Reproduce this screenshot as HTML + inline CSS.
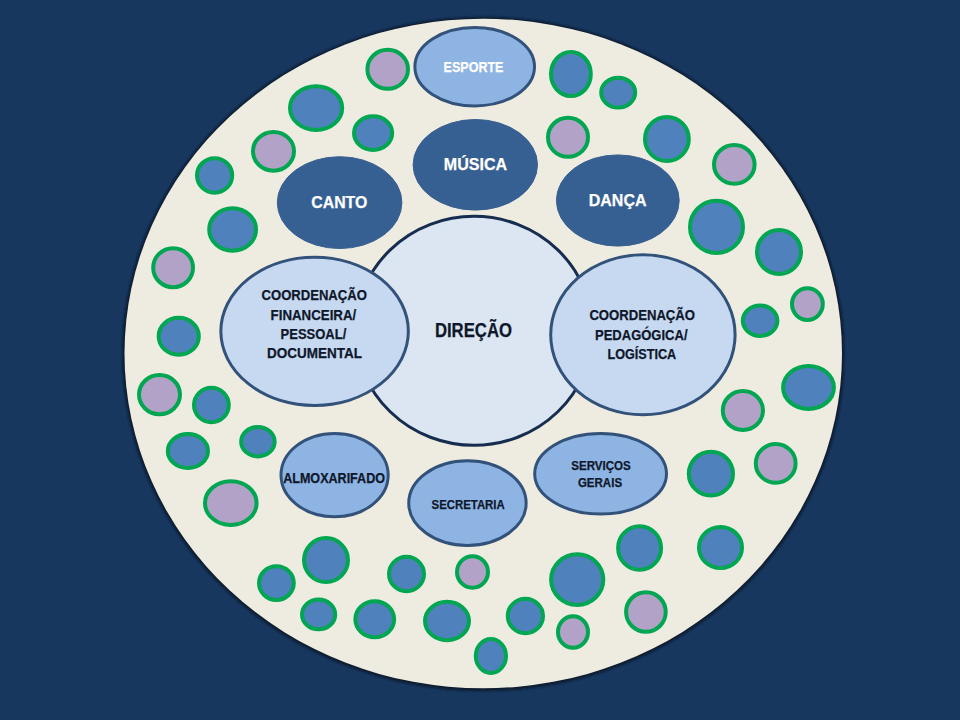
<!DOCTYPE html>
<html><head><meta charset="utf-8"><style>
html,body{margin:0;padding:0;width:960px;height:720px;overflow:hidden;background:#17375E;}
svg{display:block;}
text{font-family:"Liberation Sans",sans-serif;font-weight:bold;}
</style></head><body>
<svg width="960" height="720" viewBox="0 0 960 720">
<defs><filter id="sh" x="-10%" y="-10%" width="120%" height="120%"><feGaussianBlur stdDeviation="1.2"/></filter></defs>
<rect width="960" height="720" fill="#17375E"/>
<ellipse cx="483.25" cy="354" rx="361" ry="337" fill="#0a1a2e" filter="url(#sh)"/>
<ellipse cx="483.25" cy="353.5" rx="358.75" ry="334.8" fill="#EEECE1"/>
<ellipse cx="387.7" cy="69.3" rx="20.30" ry="19.50" fill="#B3A2C7" stroke="#00A651" stroke-width="4"/>
<ellipse cx="316.1" cy="108.1" rx="26.10" ry="21.90" fill="#4F81BD" stroke="#00A651" stroke-width="4"/>
<ellipse cx="373.1" cy="133.1" rx="19.10" ry="16.90" fill="#4F81BD" stroke="#00A651" stroke-width="4"/>
<ellipse cx="273.5" cy="151.3" rx="20.50" ry="19.40" fill="#B3A2C7" stroke="#00A651" stroke-width="4"/>
<ellipse cx="214.6" cy="175.4" rx="17.60" ry="17.25" fill="#4F81BD" stroke="#00A651" stroke-width="4"/>
<ellipse cx="232.6" cy="229.5" rx="23.40" ry="21.30" fill="#4F81BD" stroke="#00A651" stroke-width="4"/>
<ellipse cx="173.1" cy="267.7" rx="19.90" ry="19.50" fill="#B3A2C7" stroke="#00A651" stroke-width="4"/>
<ellipse cx="178.75" cy="336.25" rx="20.10" ry="18.40" fill="#4F81BD" stroke="#00A651" stroke-width="4"/>
<ellipse cx="570.9" cy="74" rx="19.90" ry="22.10" fill="#4F81BD" stroke="#00A651" stroke-width="4"/>
<ellipse cx="618.2" cy="92.6" rx="17.00" ry="14.90" fill="#4F81BD" stroke="#00A651" stroke-width="4"/>
<ellipse cx="568" cy="137.3" rx="20.00" ry="19.50" fill="#B3A2C7" stroke="#00A651" stroke-width="4"/>
<ellipse cx="666.9" cy="139" rx="21.90" ry="22.00" fill="#4F81BD" stroke="#00A651" stroke-width="4"/>
<ellipse cx="734.3" cy="164.4" rx="20.30" ry="19.40" fill="#B3A2C7" stroke="#00A651" stroke-width="4"/>
<ellipse cx="716.5" cy="226.9" rx="26.50" ry="26.10" fill="#4F81BD" stroke="#00A651" stroke-width="4"/>
<ellipse cx="779" cy="252" rx="22.00" ry="21.90" fill="#4F81BD" stroke="#00A651" stroke-width="4"/>
<ellipse cx="807.4" cy="304.1" rx="15.40" ry="15.80" fill="#B3A2C7" stroke="#00A651" stroke-width="4"/>
<ellipse cx="760.1" cy="320.7" rx="17.30" ry="15.20" fill="#4F81BD" stroke="#00A651" stroke-width="4"/>
<ellipse cx="159.5" cy="394.6" rx="20.50" ry="19.60" fill="#B3A2C7" stroke="#00A651" stroke-width="4"/>
<ellipse cx="211.4" cy="405" rx="17.40" ry="17.20" fill="#4F81BD" stroke="#00A651" stroke-width="4"/>
<ellipse cx="187.9" cy="451" rx="20.10" ry="17.00" fill="#4F81BD" stroke="#00A651" stroke-width="4"/>
<ellipse cx="257.9" cy="441.7" rx="16.75" ry="14.70" fill="#4F81BD" stroke="#00A651" stroke-width="4"/>
<ellipse cx="230.8" cy="503.1" rx="25.80" ry="21.90" fill="#B3A2C7" stroke="#00A651" stroke-width="4"/>
<ellipse cx="326" cy="560.1" rx="22.00" ry="22.00" fill="#4F81BD" stroke="#00A651" stroke-width="4"/>
<ellipse cx="276.4" cy="583.1" rx="17.40" ry="16.90" fill="#4F81BD" stroke="#00A651" stroke-width="4"/>
<ellipse cx="318.6" cy="614.4" rx="16.60" ry="14.90" fill="#4F81BD" stroke="#00A651" stroke-width="4"/>
<ellipse cx="374.75" cy="619.2" rx="19.40" ry="18.00" fill="#4F81BD" stroke="#00A651" stroke-width="4"/>
<ellipse cx="406.5" cy="574" rx="17.50" ry="17.20" fill="#4F81BD" stroke="#00A651" stroke-width="4"/>
<ellipse cx="447" cy="621" rx="22.00" ry="19.20" fill="#4F81BD" stroke="#00A651" stroke-width="4"/>
<ellipse cx="472.5" cy="572" rx="15.50" ry="15.70" fill="#B3A2C7" stroke="#00A651" stroke-width="4"/>
<ellipse cx="808.5" cy="387.4" rx="25.40" ry="21.50" fill="#4F81BD" stroke="#00A651" stroke-width="4"/>
<ellipse cx="742.9" cy="410.5" rx="20.10" ry="19.40" fill="#B3A2C7" stroke="#00A651" stroke-width="4"/>
<ellipse cx="775.7" cy="463.4" rx="19.90" ry="19.40" fill="#B3A2C7" stroke="#00A651" stroke-width="4"/>
<ellipse cx="710.9" cy="473.7" rx="22.10" ry="21.90" fill="#4F81BD" stroke="#00A651" stroke-width="4"/>
<ellipse cx="639.6" cy="548" rx="21.50" ry="21.80" fill="#4F81BD" stroke="#00A651" stroke-width="4"/>
<ellipse cx="720.5" cy="547.5" rx="21.50" ry="20.60" fill="#4F81BD" stroke="#00A651" stroke-width="4"/>
<ellipse cx="577.2" cy="579.6" rx="26.10" ry="25.30" fill="#4F81BD" stroke="#00A651" stroke-width="4"/>
<ellipse cx="645.9" cy="612" rx="19.80" ry="19.80" fill="#B3A2C7" stroke="#00A651" stroke-width="4"/>
<ellipse cx="525.4" cy="616" rx="17.60" ry="17.20" fill="#4F81BD" stroke="#00A651" stroke-width="4"/>
<ellipse cx="573" cy="632" rx="15.00" ry="15.80" fill="#B3A2C7" stroke="#00A651" stroke-width="4"/>
<ellipse cx="490.9" cy="656" rx="15.10" ry="17.00" fill="#4F81BD" stroke="#00A651" stroke-width="4"/>
<ellipse cx="474.7" cy="66.7" rx="59.80" ry="39.20" fill="#8EB4E3" stroke="#33527A" stroke-width="3"/>
<ellipse cx="475.3" cy="164.8" rx="62.20" ry="45.30" fill="#376092" stroke="#3A5F90" stroke-width="1"/>
<ellipse cx="339.6" cy="202.6" rx="62.30" ry="45.90" fill="#376092" stroke="#3A5F90" stroke-width="1"/>
<ellipse cx="617.8" cy="200.5" rx="61.40" ry="45.60" fill="#376092" stroke="#3A5F90" stroke-width="1"/>
<ellipse cx="474" cy="330.8" rx="118.50" ry="114.50" fill="#DCE6F2" stroke="#172D4F" stroke-width="3"/>
<ellipse cx="314.6" cy="331.3" rx="93.75" ry="74.10" fill="#C6D9F1" stroke="#33527A" stroke-width="3"/>
<ellipse cx="642.9" cy="334.7" rx="92.20" ry="80.00" fill="#C6D9F1" stroke="#33527A" stroke-width="3"/>
<ellipse cx="334.6" cy="475.1" rx="53.60" ry="41.70" fill="#8EB4E3" stroke="#33527A" stroke-width="3"/>
<ellipse cx="467.45" cy="503.1" rx="58.70" ry="42.30" fill="#8EB4E3" stroke="#33527A" stroke-width="3"/>
<ellipse cx="600.6" cy="473.8" rx="65.90" ry="40.30" fill="#8EB4E3" stroke="#33527A" stroke-width="3"/>
<text x="443.60" y="72.20" font-size="14.7" fill="#FFFFFF" textLength="59.90" lengthAdjust="spacingAndGlyphs" stroke="#FFFFFF" stroke-width="0.25">ESPORTE</text>
<text x="443.75" y="169.80" font-size="17.4" fill="#FFFFFF" textLength="63.35" lengthAdjust="spacingAndGlyphs" stroke="#FFFFFF" stroke-width="0.25">MÚSICA</text>
<text x="311.25" y="207.90" font-size="17.4" fill="#FFFFFF" textLength="56.05" lengthAdjust="spacingAndGlyphs" stroke="#FFFFFF" stroke-width="0.25">CANTO</text>
<text x="588.75" y="205.80" font-size="17.4" fill="#FFFFFF" textLength="57.75" lengthAdjust="spacingAndGlyphs" stroke="#FFFFFF" stroke-width="0.25">DANÇA</text>
<text x="434.90" y="336.90" font-size="19.5" fill="#0F172A" textLength="77.10" lengthAdjust="spacingAndGlyphs" stroke="#0F172A" stroke-width="0.25">DIREÇÃO</text>
<text x="261.50" y="300.00" font-size="14.5" fill="#0F172A" textLength="105.40" lengthAdjust="spacingAndGlyphs" stroke="#0F172A" stroke-width="0.25">COORDENAÇÃO</text>
<text x="270.60" y="319.75" font-size="14.5" fill="#0F172A" textLength="85.65" lengthAdjust="spacingAndGlyphs" stroke="#0F172A" stroke-width="0.25">FINANCEIRA/</text>
<text x="280.60" y="338.75" font-size="14.5" fill="#0F172A" textLength="65.65" lengthAdjust="spacingAndGlyphs" stroke="#0F172A" stroke-width="0.25">PESSOAL/</text>
<text x="266.90" y="358.10" font-size="14.5" fill="#0F172A" textLength="95.00" lengthAdjust="spacingAndGlyphs" stroke="#0F172A" stroke-width="0.25">DOCUMENTAL</text>
<text x="589.40" y="319.75" font-size="14.5" fill="#0F172A" textLength="105.60" lengthAdjust="spacingAndGlyphs" stroke="#0F172A" stroke-width="0.25">COORDENAÇÃO</text>
<text x="595.00" y="339.75" font-size="14.5" fill="#0F172A" textLength="92.50" lengthAdjust="spacingAndGlyphs" stroke="#0F172A" stroke-width="0.25">PEDAGÓGICA/</text>
<text x="607.50" y="358.75" font-size="14.5" fill="#0F172A" textLength="68.75" lengthAdjust="spacingAndGlyphs" stroke="#0F172A" stroke-width="0.25">LOGÍSTICA</text>
<text x="283.20" y="483.10" font-size="14" fill="#0F172A" textLength="101.80" lengthAdjust="spacingAndGlyphs" stroke="#0F172A" stroke-width="0.25">ALMOXARIFADO</text>
<text x="431.60" y="508.75" font-size="13" fill="#0F172A" textLength="73.10" lengthAdjust="spacingAndGlyphs" stroke="#0F172A" stroke-width="0.25">SECRETARIA</text>
<text x="571.25" y="470.00" font-size="13.4" fill="#0F172A" textLength="59.55" lengthAdjust="spacingAndGlyphs" stroke="#0F172A" stroke-width="0.25">SERVIÇOS</text>
<text x="577.90" y="487.10" font-size="13.4" fill="#0F172A" textLength="44.20" lengthAdjust="spacingAndGlyphs" stroke="#0F172A" stroke-width="0.25">GERAIS</text>
</svg>
</body></html>
